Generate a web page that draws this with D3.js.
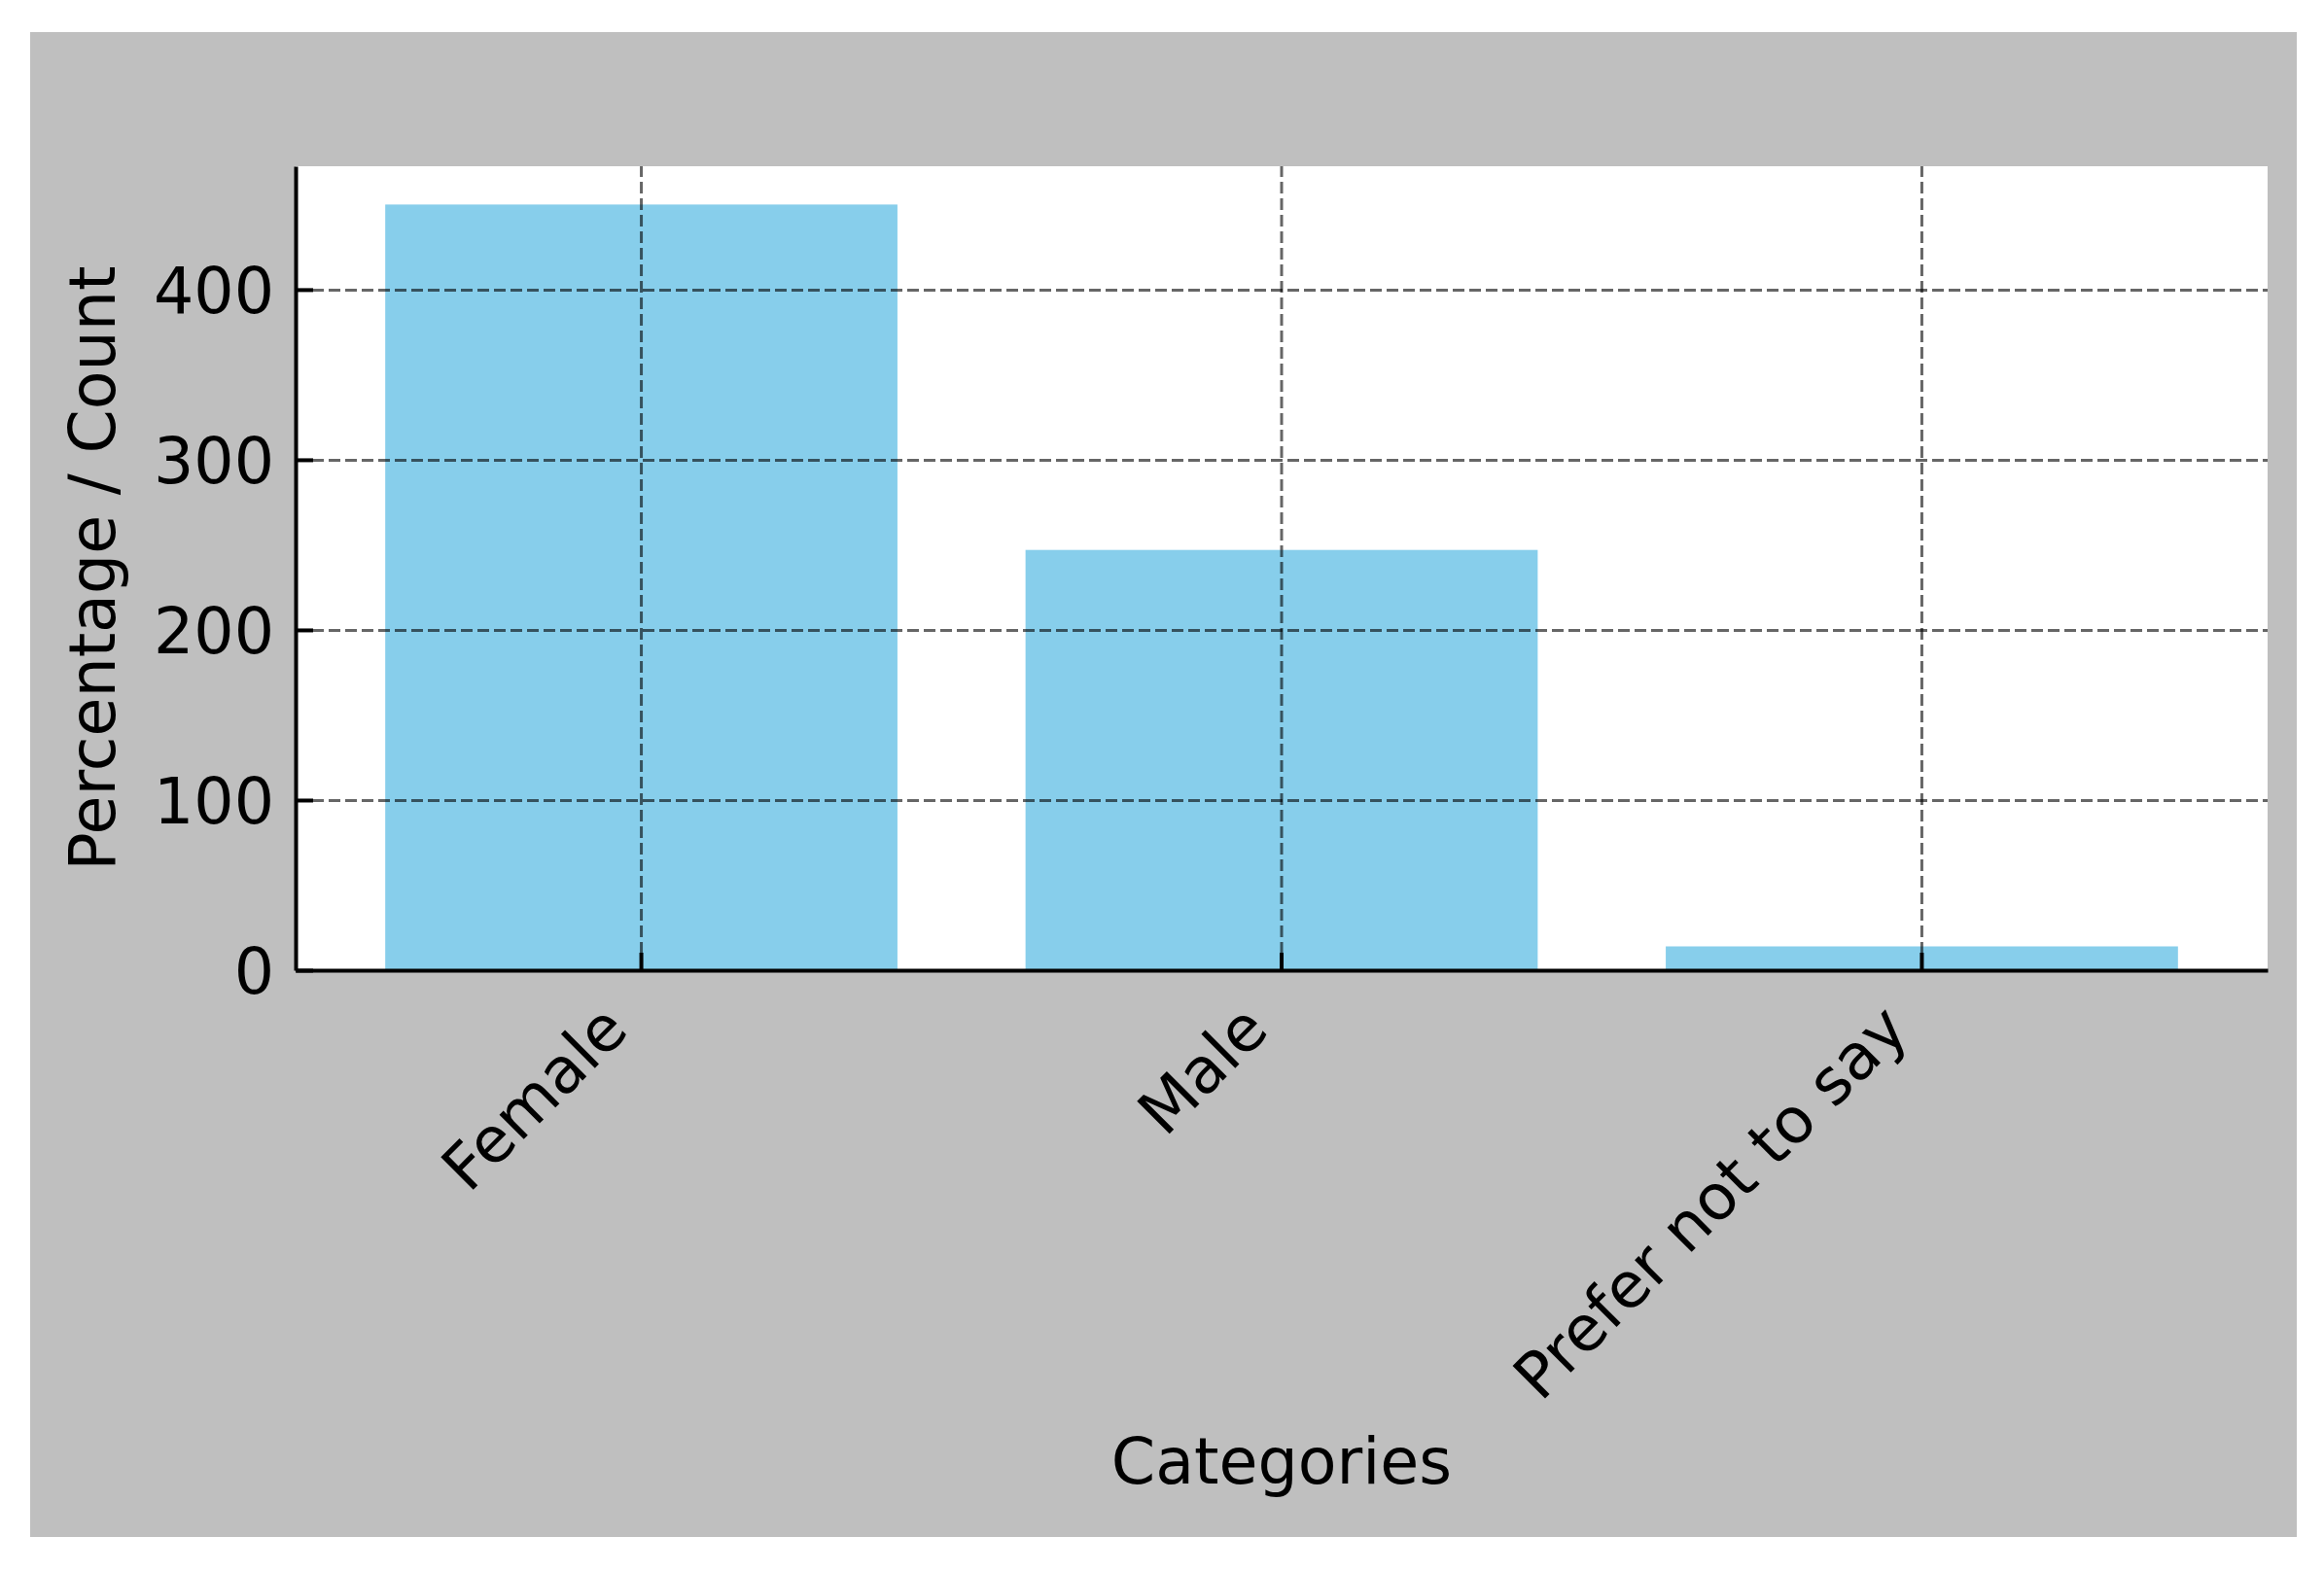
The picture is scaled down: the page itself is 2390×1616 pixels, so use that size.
<!DOCTYPE html>
<html>
<head>
<meta charset="utf-8">
<script src="https://cdn.jsdelivr.net/npm/d3@7"></script>
<style>
  html, body { margin: 0; padding: 0; background: #ffffff; }
</style>
</head>
<body>
<div id="chart"></div>
<script>
// chart data
const categories = ["Female", "Male", "Prefer not to say"];
const counts = [450, 247, 14];
const yTicks = [0, 100, 200, 300, 400];

const W = 2390, H = 1616;
const PANEL = { LEFT: 31, TOP: 33, RIGHT: 2362, BOTTOM: 1581 };
const MARGIN = { LEFT: 304, RIGHT: 58, TOP: 171, BOTTOM: 618 };
const WIDTH = W - MARGIN.LEFT - MARGIN.RIGHT;
const HEIGHT = H - MARGIN.TOP - MARGIN.BOTTOM;
const FONT = "DejaVu Sans, Liberation Sans, sans-serif";
const FS = 65;

const svg = d3.select("#chart")
  .append("svg")
  .attr("width", W)
  .attr("height", H);

// grey figure panel
svg.append("rect")
  .attr("x", PANEL.LEFT)
  .attr("y", PANEL.TOP)
  .attr("width", PANEL.RIGHT - PANEL.LEFT)
  .attr("height", PANEL.BOTTOM - PANEL.TOP)
  .attr("fill", "#bfbfbf");

const g = svg.append("g")
  .attr("transform", `translate(${MARGIN.LEFT}, ${MARGIN.TOP})`);

// white plot area
g.append("rect")
  .attr("width", WIDTH)
  .attr("height", HEIGHT)
  .attr("fill", "#ffffff");

const x = d3.scaleBand()
  .domain(categories)
  .range([0, WIDTH])
  .paddingInner(0.2)
  .paddingOuter(0.14);

const y = d3.scaleLinear()
  .domain([0, d3.max(counts) * 1.05])
  .range([HEIGHT, 0]);

// bars
g.selectAll("rect.bar")
  .data(categories)
  .enter()
  .append("rect")
  .attr("class", "bar")
  .attr("x", (d) => x(d))
  .attr("y", (d, i) => y(counts[i]))
  .attr("width", x.bandwidth())
  .attr("height", (d, i) => HEIGHT - y(counts[i]))
  .attr("fill", "#87ceeb");

// dashed grid
const gridY = g.append("g")
  .call(d3.axisLeft(y).tickValues(yTicks).tickSize(-WIDTH).tickFormat(""));
const gridX = g.append("g")
  .attr("transform", `translate(0, ${HEIGHT})`)
  .call(d3.axisBottom(x).tickSize(-HEIGHT).tickFormat(""));
[gridY, gridX].forEach((gr) => {
  gr.select(".domain").remove();
  gr.selectAll("line")
    .attr("stroke", "#000")
    .attr("stroke-opacity", 0.6)
    .attr("stroke-width", 3)
    .attr("stroke-dasharray", "12,5");
});

// y axis
const yAxis = g.append("g")
  .call(d3.axisLeft(y).tickValues(yTicks).tickSizeInner(-18).tickSizeOuter(0).tickPadding(22));
yAxis.selectAll("text")
  .attr("font-family", FONT)
  .attr("font-size", FS)
  .attr("fill", "#000")
  .attr("dy", "0.36em");

// x axis
const xAxis = g.append("g")
  .attr("transform", `translate(0, ${HEIGHT})`)
  .call(d3.axisBottom(x).tickSizeInner(-18).tickSizeOuter(0));
xAxis.selectAll("text")
  .attr("font-family", FONT)
  .attr("font-size", FS)
  .attr("fill", "#000")
  .attr("text-anchor", "end")
  .attr("x", -11)
  .attr("y", 64)
  .attr("dy", 0)
  .attr("transform", "rotate(-45, -11, 64)");

[yAxis, xAxis].forEach((ax) => {
  ax.select(".domain").attr("stroke", "#000").attr("stroke-width", 4);
  ax.selectAll(".tick line").attr("stroke", "#000").attr("stroke-width", 4);
});

// axis labels
g.append("text")
  .attr("x", WIDTH / 2)
  .attr("y", 1526 - MARGIN.TOP)
  .attr("font-family", FONT)
  .attr("font-size", FS)
  .attr("text-anchor", "middle")
  .attr("fill", "#000")
  .text("Categories");

g.append("text")
  .attr("transform", `translate(${118 - MARGIN.LEFT}, ${HEIGHT / 2}) rotate(-90)`)
  .attr("font-family", FONT)
  .attr("font-size", FS)
  .attr("text-anchor", "middle")
  .attr("fill", "#000")
  .text("Percentage / Count");
</script>
</body>
</html>
